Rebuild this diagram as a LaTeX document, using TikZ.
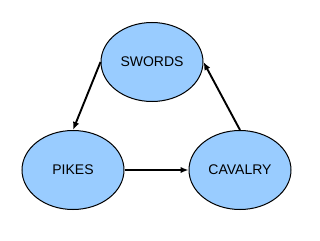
\documentclass[tikz,border=0pt]{standalone}
\usepackage{fontspec}
\setmainfont{Liberation Sans}
\usetikzlibrary{arrows.meta, positioning, shapes.geometric}

\begin{document}
\begin{tikzpicture}[
    x=1pt, y=-1pt,
    font=\fontsize{14}{16}\selectfont,
    arr/.style={-{Latex[length=8pt, width=6.5pt]}, line width=1.9pt},
    unit/.style={
        ellipse, draw, line width=1pt,
        fill={rgb,255:red,153;green,204;blue,255},
        minimum width=102pt, minimum height=79pt, inner sep=0pt
    },
]
    \useasboundingbox[fill=white] (0,0) rectangle (320,240);

    % Tropas
    \node[unit] at (152,62)            (swords)  {SWORDS};
    \node[unit] at (73,170)            (pikes)   {PIKES};
    \node[unit, right=64pt of pikes]   (cavalry) {CAVALRY};

    % Ciclo de ventajas
    \draw[arr] (swords.west)  -- (pikes.north);
    \draw[arr] (pikes.east)   -- (cavalry.west);
    \draw[arr] (cavalry.north) -- (swords.east);

\end{tikzpicture}
\end{document}
